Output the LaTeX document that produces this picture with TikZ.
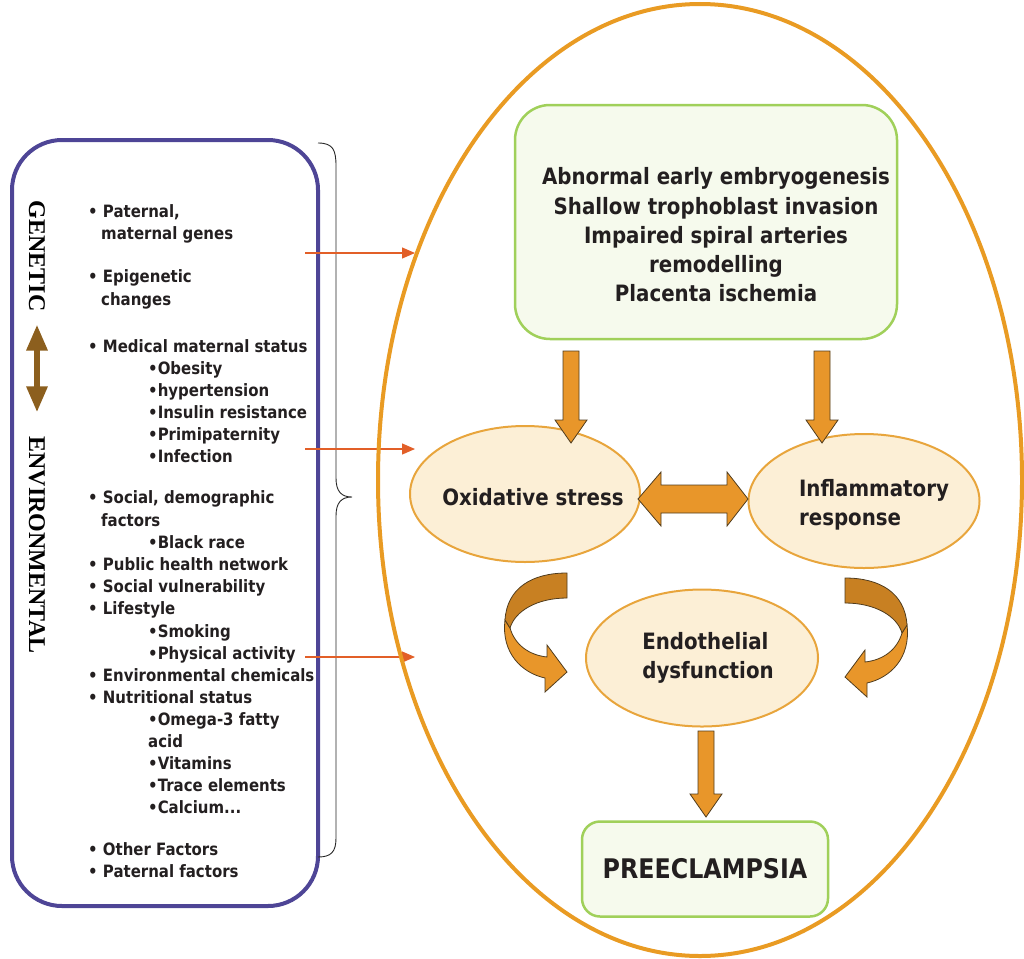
\documentclass[tikz,border=0pt]{standalone}
\usepackage{fontspec}
\setmainfont{DejaVu Sans}[FakeStretch=0.88]
\newfontfamily\serifbold{Liberation Serif}
\usetikzlibrary{shapes.geometric,arrows.meta,calc}

\definecolor{frame}{RGB}{78,69,150}
\definecolor{ring}{RGB}{233,155,35}
\definecolor{leaf}{RGB}{160,208,90}
\definecolor{leaffill}{RGB}{246,250,237}
\definecolor{cream}{RGB}{252,239,214}
\definecolor{creamline}{RGB}{232,165,60}
\definecolor{block}{RGB}{232,150,42}
\definecolor{blockdark}{RGB}{200,128,34}
\definecolor{blockline}{RGB}{80,60,30}
\definecolor{pointer}{RGB}{226,95,40}
\definecolor{mud}{RGB}{140,95,30}
\definecolor{ink}{RGB}{35,31,32}

% block arrow pointing down: top point, length
\newcommand{\downblock}[2]{%
  \draw[blockarr] (#1) ++(-8,0) -- ++(16,0) -- ++(0,#2-23) -- ++(8,0)
    -- ++(-16,23) -- ++(-16,-23) -- ++(8,0) -- cycle;}

\tikzset{
  blockarr/.style={fill=block, draw=blockline, line width=0.8pt},
  curvearr/.pic={
    \draw[blockarr] (-62,47) .. controls (-66,80) and (-45,100) .. (-22,105)
      -- (-22,119) -- (0,99) -- (-20,72) -- (-20,84)
      .. controls (-38,82) and (-52,72) .. (-57,55) -- cycle;
    \draw[blockarr, fill=blockdark] (0,0) .. controls (-35,0) and (-60,15) .. (-62,47)
      -- (-57,55) .. controls (-52,38) and (-30,25) .. (0,25) -- cycle;
  }
}

\begin{document}
\begin{tikzpicture}[
    x=1pt, y=-1pt,
    >={Triangle[length=13pt,width=11pt]},
    factorbox/.style={draw=frame, line width=4pt, rounded corners=50pt, minimum width=306pt, minimum height=766pt},
    side/.style={inner sep=0, rotate=-90, text=black, font=\serifbold\bfseries\fontsize{24}{24}\selectfont},
    item/.style={anchor=base west, inner sep=0, text=ink, font=\bfseries\fontsize{17}{22}\selectfont},
    ringbox/.style={draw=ring, line width=4pt, ellipse, minimum width=644pt, minimum height=952pt},
    greenbox/.style={draw=leaf, line width=2.5pt, fill=leaffill, rounded corners=35pt},
    bigtext/.style={inner sep=0, align=center, text=ink, font=\bfseries\fontsize{22.5}{29.3}\selectfont},
    cell/.style={ellipse, draw=creamline, line width=2pt, fill=cream, inner sep=0,
      minimum width=230pt, minimum height=136pt},
    celltext/.style={inner sep=0, align=left, text=ink, font=\bfseries\fontsize{22.5}{29}\selectfont},
    feed/.style={draw=pointer, line width=1.2pt, ->}
  ]
  \useasboundingbox (0,0) rectangle (1024,958);

  % left panel
  \node[factorbox] (factors) at (165,523) {};
  \node[side] (gen) at (37,256) {GENETIC};
  \node[side] (env) at (37,545) {ENVIRONMENTAL};
  \draw[mud, line width=6pt, {Triangle[length=26pt,width=20pt]}-{Triangle[length=26pt,width=20pt]},
    shorten <=13pt, shorten >=24pt, xshift=-3pt] (gen.east) -- (env.west);

  \foreach \x/\y/\t [count=\i] in {
      88/217/{• Paternal,}, 101/239/{maternal genes},
      88/282/{• Epigenetic}, 101/305/{changes},
      88/352/{• Medical maternal status},
      148/374/{•Obesity}, 148/396/{•hypertension}, 148/418/{•Insulin resistance},
      148/440/{•Primipaternity}, 148/462/{•Infection},
      88/503/{• Social, demographic}, 101/526/{factors}, 148/548/{•Black race},
      88/570/{• Public health network}, 88/592/{• Social vulnerability},
      88/614/{• Lifestyle}, 148/637/{•Smoking}, 148/659/{•Physical activity},
      88/681/{• Environmental chemicals}, 88/703/{• Nutritional status},
      148/725/{•Omega-3 fatty}, 148/747/{acid}, 148/769/{•Vitamins},
      148/791/{•Trace elements}, 148/813/{•Calcium...},
      88/855/{• Other Factors}, 88/877/{• Paternal factors}}
    \node[item] (f\i) at (\x,\y) {\t};

  % brace
  \draw[black!85, line width=0.9pt] (318,143) .. controls (333,143) and (336,150) .. (336,166)
    -- (336,478) .. controls (336,491) and (341,497) .. (352,497)
    .. controls (341,497) and (336,503) .. (336,516)
    -- (336,838) .. controls (336,852) and (331,857) .. (318,857);

  \foreach \y [count=\i] in {253,449,657} {
    \coordinate (p\i) at (305,\y);
    \coordinate (q\i) at (415,\y);
    \draw[feed] (p\i) -- (q\i);
  }

  % right panel
  \node[ringbox] (pathway) at (700,480) {};
  \node[greenbox, minimum width=382pt, minimum height=234pt] (cause) at (706,222) {};
  \node[bigtext] (causetxt) at (716,235) {Abnormal early embryogenesis\\Shallow trophoblast invasion\\
    Impaired spiral arteries\\remodelling\\Placenta ischemia};
  \node[cell, label={[celltext, xshift=8pt, yshift=-3pt]center:Oxidative stress}] (ox) at (525,494) {};
  \node[cell, minimum width=231pt, minimum height=134pt,
    label={[celltext, xshift=10pt, yshift=-4pt]center:Inflammatory\\response}] (infl) at (864,501) {};
  \node[cell, minimum width=232pt, minimum height=137pt,
    label={[celltext, xshift=6pt]center:Endothelial\\dysfunction}] (endo) at (702,658) {};
  \node[greenbox, rounded corners=18pt, minimum width=246pt, minimum height=95pt, text=ink,
    font=\bfseries\fontsize{27}{27}\selectfont] (pre) at (705,869) {PREECLAMPSIA};

  % arrows
  \downblock{571,351}{92}
  \downblock{822,351}{92}
  \downblock{706,731}{86}
  \draw[blockarr] (638,499) -- (661,472) -- (661,485) -- (727,485) -- (727,472) -- (748,499)
    -- (727,526) -- (727,513) -- (661,513) -- (661,526) -- cycle;
  \pic at (567,573) {curvearr};
  \pic[xscale=-1] at (845,578) {curvearr};
\end{tikzpicture}
\end{document}
